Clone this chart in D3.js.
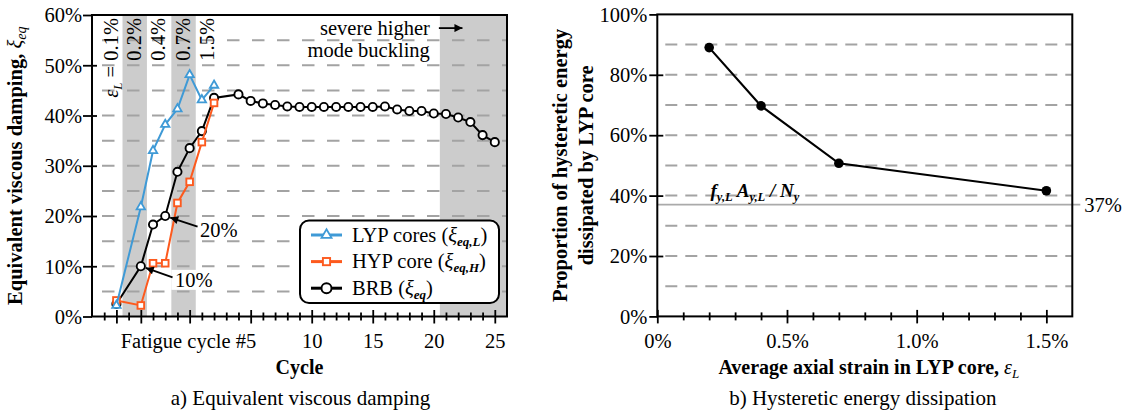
<!DOCTYPE html>
<html><head><meta charset="utf-8">
<script src="https://cdn.jsdelivr.net/npm/d3@7"></script>
<style>
body{margin:0;background:#fff;}
svg{display:block;font-family:"Liberation Serif","Times New Roman",serif;}
svg text{font-family:"Liberation Serif","Times New Roman",serif;}
</style></head><body>
<svg id="chart" width="1128" height="413"></svg>
<script>
// ---------------- data (panel a) ----------------
const cyclesBRB = [-6,-4,-3,-2,-1,0,1,2,4,5,6,7,8,9,10,11,12,13,14,15,16,17,18,19,20,21,22,23,24,25];
const dampingBRB = [2.5,10.0,18.3,20.0,28.8,33.5,36.9,43.5,44.2,42.9,42.4,42.1,41.8,41.7,41.7,41.7,41.7,41.7,41.7,41.7,41.8,41.2,40.9,40.9,40.4,40.3,39.6,38.7,36.1,34.7];
const cyclesCore = [-6,-4,-3,-2,-1,0,1,2];
const dampingLYP = [2.2,21.8,33.0,38.2,41.3,48.1,43.1,46.0];
const dampingHYP = [3.2,2.2,10.6,10.6,22.6,26.8,34.7,42.5];
const strainBands = [[-5.5,-3.5],[-1.5,0.5],[20.5,26]];
const strainLabels = ["0.1%","0.2%","0.4%","0.7%","1.5%"];
const strainLabelCycles = [-5.9,-4,-2,0,2];
const xMinorCycles = d3.range(-7,26);
const xMajorCycles = [-6,-4,0,5,10,15,20,25];
const xTickCycles = [5,10,15,20,25];
const xTickLabels = ["Fatigue cycle #5","10","15","20","25"];
const yTicksA = [0,10,20,30,40,50,60];
const gridA = [5,10,15,20,25,30,35,40,45,50,55];
const legendNames = ["LYP cores (","HYP core (","BRB ("];
const legendSubs = ["eq,L","eq,H","eq"];
// ---------------- data (panel b) ----------------
const strainB = [0.2,0.4,0.7,1.5];
const energyB = [89.0,69.7,50.7,41.6];
const refRatio = 37;
const xMinorB = d3.range(1,16).map(d=>d/10);
const xTicksB = [0,0.5,1.0,1.5];
const xTickLabelsB = ["0%","0.5%","1.0%","1.5%"];
const yTicksB = [0,20,40,60,80,100];
const gridB = [10,20,30,40,50,60,70,80,90];

const BLUE="#3f9ad6", ORANGE="#fd5a1e", GRID="#a3a3a3", BAND="#cccccc";
const FS=20.5;
const svg = d3.select("#chart");

svg.append("defs").append("marker").attr("id","ah").attr("viewBox","0 0 10 10")
  .attr("refX",10).attr("refY",5).attr("markerWidth",10).attr("markerHeight",8)
  .attr("markerUnits","userSpaceOnUse").attr("orient","auto")
  .append("path").attr("d","M0,0L10,5L0,10z").attr("fill","#000");

function marker(sel, type, color, s){
  if(type==="circle") sel.append("circle").attr("r",s).attr("fill","#fff").attr("stroke",color).attr("stroke-width",1.9);
  else if(type==="square") sel.append("rect").attr("x",-s).attr("y",-s).attr("width",2*s).attr("height",2*s).attr("fill","#fff").attr("stroke",color).attr("stroke-width",1.9);
  else { const h=s*0.866*2; sel.append("path").attr("d",`M0,${-2*h/3}L${s},${h/3}L${-s},${h/3}Z`).attr("fill","#fff").attr("stroke",color).attr("stroke-width",1.8).attr("stroke-linejoin","miter"); }
}

// ================= Panel a =================
const A={l:92,r:507,t:15,b:316.5};
const xA=d3.scaleLinear().domain([-8,26]).range([A.l,A.r]);
const yA=d3.scaleLinear().domain([0,60]).range([A.b,A.t]);
const gA=svg.append("g");

gA.selectAll("rect.band").data(strainBands).join("rect").attr("class","band")
  .attr("x",d=>xA(d[0])).attr("width",d=>xA(d[1])-xA(d[0])).attr("y",A.t).attr("height",A.b-A.t).attr("fill",BAND);

gA.selectAll("line.grid").data(gridA).join("line").attr("class","grid")
  .attr("x1",A.l+10).attr("x2",A.r).attr("y1",d=>yA(d)).attr("y2",d=>yA(d))
  .attr("stroke",GRID).attr("stroke-width",2).attr("stroke-dasharray","12.5,12.5");

// strain labels
strainLabels.forEach((t,i)=>{
  const tx=gA.append("text").attr("transform",`translate(${xA(strainLabelCycles[i])},18) rotate(-90)`)
    .attr("text-anchor","end").attr("font-size",FS);
  if(i===0){
    tx.append("tspan").attr("font-style","italic").text("ε");
    tx.append("tspan").attr("font-style","italic").attr("font-size",13).attr("dy",4).text("L");
    tx.append("tspan").attr("dy",-4).text(" = "+t);
  } else tx.text(t);
});

// severe buckling note
gA.append("text").attr("x",xA(20.5)-10).attr("y",yA(56)).attr("text-anchor","end").attr("font-size",FS).text("severe higher");
gA.append("text").attr("x",xA(20.5)-10).attr("y",yA(51.7)).attr("text-anchor","end").attr("font-size",FS).text("mode buckling");
gA.append("line").attr("x1",xA(20.5)-1).attr("x2",xA(22.35)).attr("y1",yA(56)-7).attr("y2",yA(56)-7)
  .attr("stroke","#000").attr("stroke-width",1.8).attr("marker-end","url(#ah)");

// series
const seriesA=[
  {x:cyclesBRB,y:dampingBRB,color:"#000",type:"circle",s:4.1},
  {x:cyclesCore,y:dampingHYP,color:ORANGE,type:"square",s:3.3},
  {x:cyclesCore,y:dampingLYP,color:BLUE,type:"triangle",s:4.2}
];
const lineA=d3.line().x(d=>xA(d[0])).y(d=>yA(d[1]));
seriesA.forEach(s=>{
  const pts=s.x.map((c,i)=>[c,s.y[i]]);
  gA.append("path").datum(pts).attr("d",lineA).attr("fill","none").attr("stroke",s.color).attr("stroke-width",2);
  gA.selectAll(null).data(pts).join("g").attr("transform",d=>`translate(${xA(d[0])},${yA(d[1])})`)
    .each(function(){marker(d3.select(this),s.type,s.color,s.s);});
});

// annotations 20% / 10%
const annots=[
  {label:"20%",pc:-2,pv:20.0,tc:0.85,tv:15.8,ac:0.65,av:17.9},
  {label:"10%",pc:-4,pv:10.0,tc:-1.2,tv:5.9,ac:-1.4,av:7.8}
];
annots.forEach(a=>{
  const t=gA.append("text").attr("x",xA(a.tc)).attr("y",yA(a.tv)).attr("font-size",FS).text(a.label);
  if(a.label==="10%"){
    const bb=t.node().getBBox();
    gA.insert("rect",()=>t.node()).attr("x",xA(-1.5)).attr("y",bb.y+1).attr("width",bb.x+bb.width+2-xA(-1.5)).attr("height",bb.height-2).attr("fill","#fff");
  }
  const x0=xA(a.ac),y0=yA(a.av),x1=xA(a.pc),y1=yA(a.pv);
  const dx=x1-x0,dy=y1-y0,L=Math.hypot(dx,dy),k=(L-5.2)/L;
  gA.append("line").attr("x1",x0).attr("y1",y0).attr("x2",x0+dx*k).attr("y2",y0+dy*k)
    .attr("stroke","#000").attr("stroke-width",1.8).attr("marker-end","url(#ah)");
});

// legend
const lg=gA.append("g").attr("transform",`translate(${A.r-207},${A.b-96})`);
lg.append("rect").attr("width",199).attr("height",82.5).attr("rx",9).attr("fill","#fff").attr("stroke","#000").attr("stroke-width",2);
seriesA.slice().reverse().forEach((s,i)=>{
  const y=14.5+i*26.6;
  lg.append("line").attr("x1",11).attr("x2",42).attr("y1",y).attr("y2",y).attr("stroke",s.color).attr("stroke-width",3);
  const m=lg.append("g").attr("transform",`translate(26.5,${y})`);
  marker(m,s.type,s.color,s.type==="square"?3.6:5);
  const t=lg.append("text").attr("x",52).attr("y",y+6.5).attr("font-size",FS);
  t.append("tspan").text(legendNames[i]);
  t.append("tspan").attr("font-style","italic").text("ξ");
  t.append("tspan").attr("font-style","italic").attr("font-weight","bold").attr("font-size",13).attr("dy",4).text(legendSubs[i]);
  t.append("tspan").attr("dy",-4).text(")");
});

// frame
gA.append("rect").attr("x",A.l).attr("y",A.t).attr("width",A.r-A.l).attr("height",A.b-A.t).attr("fill","none").attr("stroke","#000").attr("stroke-width",2);

// axes
const axXA=gA.append("g").attr("transform",`translate(0,${A.b})`)
  .call(d3.axisBottom(xA).tickValues(xMinorCycles).tickSizeOuter(0)
  .tickFormat(d=>{const i=xTickCycles.indexOf(d);return i<0?"":xTickLabels[i];}));
axXA.attr("font-family",null).attr("font-size",null);
axXA.select(".domain").remove();
axXA.selectAll(".tick line").attr("stroke","#000").attr("stroke-width",1.8)
  .attr("y1",d=>xMajorCycles.includes(d)?-6.5:-4).attr("y2",d=>xMajorCycles.includes(d)?7:4);
axXA.selectAll(".tick text").attr("y",31.5).attr("dy",0).attr("font-size",FS).attr("fill","#000")
  .attr("text-anchor",d=>d===5?"end":"middle").attr("dx",d=>d===5?5:0);

const axYA=gA.append("g").attr("transform",`translate(${A.l},0)`)
  .call(d3.axisLeft(yA).tickValues(yTicksA).tickSizeOuter(0).tickFormat(d=>d+"%"));
axYA.attr("font-family",null).attr("font-size",null);
axYA.select(".domain").remove();
axYA.selectAll(".tick line").attr("stroke","#000").attr("stroke-width",1.8).attr("x1",d=>d===60||d===0?0:5).attr("x2",-9);
axYA.selectAll(".tick text").attr("x",-10).attr("dy","0.33em").attr("font-size",FS).attr("fill","#000");

// titles
gA.append("text").attr("x",(A.l+A.r)/2).attr("y",374).attr("text-anchor","middle").attr("font-size",20).attr("font-weight","bold").text("Cycle");
const ytA=gA.append("text").attr("transform",`translate(22,${(A.t+A.b)/2}) rotate(-90)`).attr("text-anchor","middle").attr("font-size",20.5).attr("font-weight","bold");
ytA.append("tspan").text("Equivalent viscous damping, ");
ytA.append("tspan").attr("font-style","italic").attr("font-weight","normal").text("ξ");
ytA.append("tspan").attr("font-style","italic").attr("font-weight","normal").attr("font-size",14).attr("dy",4).text("eq");
gA.append("text").attr("x",(A.l+A.r)/2+1).attr("y",405).attr("text-anchor","middle").attr("font-size",21).text("a) Equivalent viscous damping");

// ================= Panel b =================
const B={l:657.3,r:1072.3,t:14.4,b:316.4};
const xB=d3.scaleLinear().domain([0,1.6]).range([B.l,B.r]);
const yB=d3.scaleLinear().domain([0,100]).range([B.b,B.t]);
const gB=svg.append("g");

gB.selectAll("line.grid").data(gridB).join("line").attr("class","grid")
  .attr("x1",B.l+8).attr("x2",B.r).attr("y1",d=>yB(d)).attr("y2",d=>yB(d))
  .attr("stroke",GRID).attr("stroke-width",2).attr("stroke-dasharray","12,8");

gB.append("line").attr("x1",B.l).attr("x2",B.r+8).attr("y1",yB(refRatio)).attr("y2",yB(refRatio))
  .attr("stroke","#aaaaaa").attr("stroke-width",1.8);
gB.append("text").attr("x",B.r+12).attr("y",yB(refRatio)+7).attr("font-size",FS).text(refRatio+"%");

const fl=gB.append("text").attr("x",xB(0.205)).attr("y",yB(39.6)).attr("font-size",19).attr("font-weight","bold").attr("font-style","italic");
fl.append("tspan").text("f");
fl.append("tspan").attr("font-size",12.5).attr("dy",4).text("y,L");
fl.append("tspan").attr("dy",-4).text(" A");
fl.append("tspan").attr("font-size",12.5).attr("dy",4).text("y,L");
fl.append("tspan").attr("dy",-4).text(" / N");
fl.append("tspan").attr("font-size",12.5).attr("dy",4).text("y");

const ptsB=strainB.map((s,i)=>[s,energyB[i]]);
gB.append("path").datum(ptsB).attr("d",d3.line().x(d=>xB(d[0])).y(d=>yB(d[1]))).attr("fill","none").attr("stroke","#000").attr("stroke-width",2.2);
gB.selectAll("circle.pt").data(ptsB).join("circle").attr("class","pt").attr("cx",d=>xB(d[0])).attr("cy",d=>yB(d[1])).attr("r",4.8).attr("fill","#000");

gB.append("rect").attr("x",B.l).attr("y",B.t).attr("width",B.r-B.l).attr("height",B.b-B.t).attr("fill","none").attr("stroke","#000").attr("stroke-width",2);

const axXB=gB.append("g").attr("transform",`translate(0,${B.b})`)
  .call(d3.axisBottom(xB).tickValues(xMinorB.concat([0])).tickSizeOuter(0)
  .tickFormat(d=>{const i=xTicksB.findIndex(v=>Math.abs(v-d)<1e-9);return i<0?"":xTickLabelsB[i];}));
axXB.attr("font-family",null).attr("font-size",null);
axXB.select(".domain").remove();
const isMajB=d=>xTicksB.some(v=>Math.abs(v-d)<1e-9);
axXB.selectAll(".tick line").attr("stroke","#000").attr("stroke-width",1.8)
  .attr("y1",d=>isMajB(d)?-6.5:-4).attr("y2",d=>isMajB(d)?7:4);
axXB.selectAll(".tick text").attr("y",31.5).attr("dy",0).attr("font-size",FS).attr("fill","#000");

const axYB=gB.append("g").attr("transform",`translate(${B.l},0)`)
  .call(d3.axisLeft(yB).tickValues(yTicksB).tickSizeOuter(0).tickFormat(d=>d+"%"));
axYB.attr("font-family",null).attr("font-size",null);
axYB.select(".domain").remove();
axYB.selectAll(".tick line").attr("stroke","#000").attr("stroke-width",1.8).attr("x1",d=>d===100||d===0?0:6).attr("x2",-8);
axYB.selectAll(".tick text").attr("x",-10).attr("dy","0.33em").attr("font-size",FS).attr("fill","#000");

const xtB=gB.append("text").attr("x",(B.l+B.r)/2+4).attr("y",374).attr("text-anchor","middle").attr("font-size",20).attr("font-weight","bold");
xtB.append("tspan").text("Average axial strain in LYP core, ");
xtB.append("tspan").attr("font-style","italic").attr("font-weight","normal").text("ε");
xtB.append("tspan").attr("font-style","italic").attr("font-weight","normal").attr("font-size",13).attr("dy",4).text("L");

const ytB=gB.append("text").attr("transform",`translate(0,${(B.t+B.b)/2}) rotate(-90)`).attr("text-anchor","middle").attr("font-size",20.5).attr("font-weight","bold");
ytB.append("tspan").attr("x",0).attr("y",567).text("Proportion of hysteretic energy");
ytB.append("tspan").attr("x",0).attr("y",593).text("dissipated by LYP core");

gB.append("text").attr("x",(B.l+B.r)/2-2).attr("y",405).attr("text-anchor","middle").attr("font-size",21).text("b) Hysteretic energy dissipation");
</script>
</body></html>
